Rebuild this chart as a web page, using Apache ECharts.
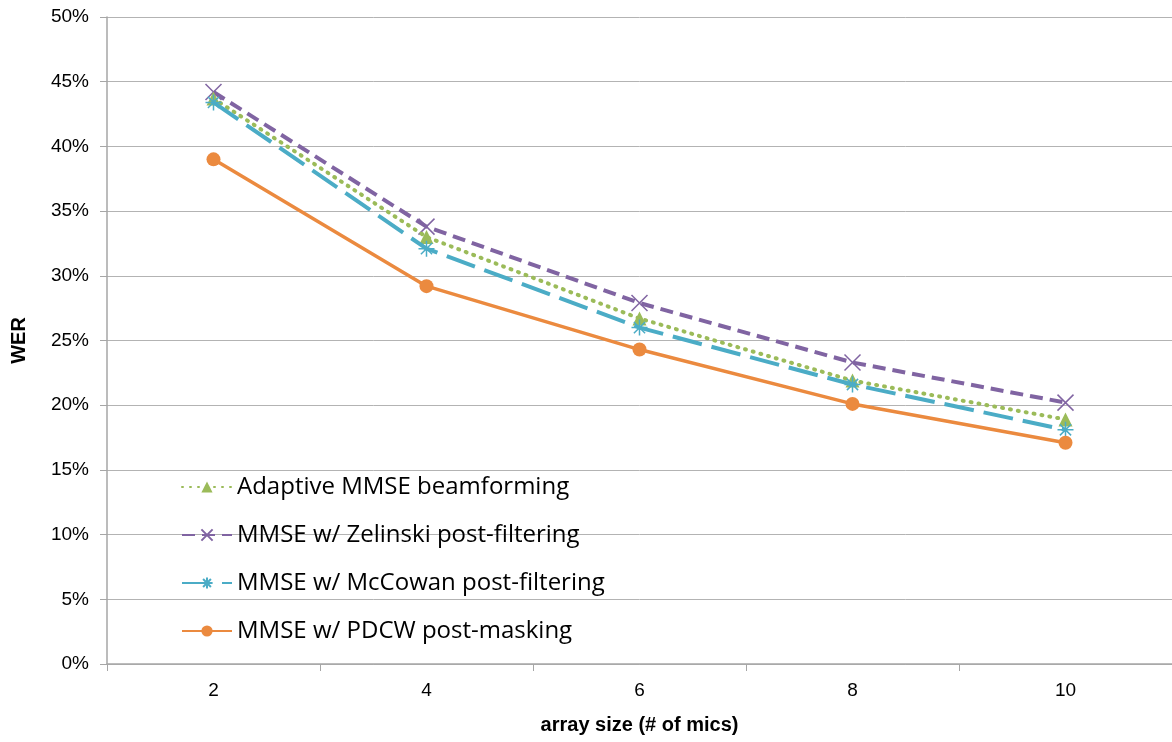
<!DOCTYPE html>
<html><head><meta charset="utf-8">
<script src="https://cdn.jsdelivr.net/npm/echarts@6/dist/echarts.min.js"></script>
<style>html,body{margin:0;padding:0;background:#fff;overflow:hidden}#c{width:1172px;height:742px}</style>
</head><body><div id="c"></div>
<script>
const categories = ['2','4','6','8','10'];
const adaptive = [43.7, 33.0, 26.7, 21.9, 18.9];
const zelinski = [44.2, 33.8, 27.9, 23.3, 20.2];
const mccowan = [43.4, 32.1, 26.0, 21.6, 18.1];
const pdcw = [39.0, 29.2, 24.3, 20.1, 17.1];
const seriesNames = ['Adaptive MMSE beamforming','MMSE w/ Zelinski post-filtering','MMSE w/ McCowan post-filtering','MMSE w/ PDCW post-masking'];

const GREEN='#9BBB59', PURPLE='#8064A2', TEAL='#4BACC6', ORANGE='#EB8A3F';
const chart = echarts.init(document.getElementById('c'));
chart.setOption({
  animation:false,
  grid:{left:107, right:0, top:17, bottom:78, containLabel:false, outerBoundsMode:'none'},
  legend:{
    orient:'vertical', left:176, top:470, itemWidth:50, itemHeight:14, itemGap:24,
    data:seriesNames,
    textStyle:{fontFamily:'Open Sans', fontSize:24, color:'#000'}
  },
  xAxis:{
    type:'category', data:categories, boundaryGap:true,
    axisLine:{lineStyle:{color:'#A6A6A6', width:1.5}},
    axisTick:{show:true, length:7, lineStyle:{color:'#A6A6A6'}},
    axisLabel:{fontFamily:'Liberation Sans', fontSize:19, color:'#000', margin:17},
    name:'array size (# of mics)', nameLocation:'middle', nameGap:51,
    nameTextStyle:{fontFamily:'Liberation Sans', fontSize:20, fontWeight:'bold', color:'#000'}
  },
  yAxis:{
    type:'value', min:0, max:50, interval:5,
    axisLine:{show:true, lineStyle:{color:'#A6A6A6', width:1.5}},
    axisTick:{show:true, length:7, lineStyle:{color:'#A6A6A6'}},
    axisLabel:{formatter:'{value}%', fontFamily:'Liberation Sans', fontSize:19, color:'#000', margin:18},
    splitLine:{lineStyle:{color:'#B3B3B3', width:1}},
    name:'WER', nameLocation:'middle', nameGap:78,
    nameTextStyle:{fontFamily:'Liberation Sans', fontSize:20, fontWeight:'bold', color:'#000'}
  },
  series:[
    {name:seriesNames[0], type:'line', data:adaptive, symbol:'triangle', symbolSize:14,
     lineStyle:{color:GREEN, width:4, type:[1,7], cap:'round'},
     itemStyle:{color:GREEN}, z:3},
    {name:seriesNames[1], type:'line', data:zelinski,
     symbol:'path://M0,0 L10,10 M10,0 L0,10', symbolSize:16,
     lineStyle:{color:PURPLE, width:4, type:[13,7]},
     itemStyle:{color:PURPLE, borderColor:PURPLE, borderWidth:1.5}, z:2},
    {name:seriesNames[2], type:'line', data:mccowan,
     symbol:'path://M5,0 L5,10 M0,5 L10,5 M1.5,1.5 L8.5,8.5 M8.5,1.5 L1.5,8.5', symbolSize:16,
     lineStyle:{color:TEAL, width:4, type:[30,10]},
     itemStyle:{color:TEAL, borderColor:TEAL, borderWidth:1.5}, z:4},
    {name:seriesNames[3], type:'line', data:pdcw, symbol:'circle', symbolSize:14,
     lineStyle:{color:ORANGE, width:3.5},
     itemStyle:{color:ORANGE}, z:5}
  ]
});
</script></body></html>
